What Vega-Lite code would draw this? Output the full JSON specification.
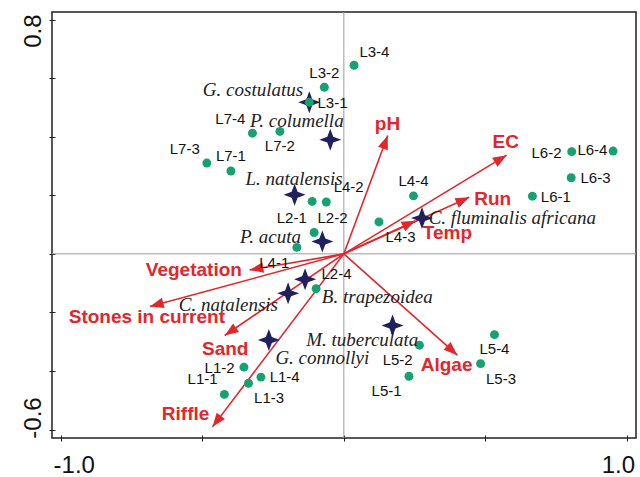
{
  "$schema": "https://vega.github.io/schema/vega-lite/v6.json",
  "width": 584,
  "height": 426,
  "autosize": "none",
  "padding": {"left": 52, "top": 12, "right": 4, "bottom": 39},
  "background": "white",
  "config": {
    "view": {"stroke": "#222", "strokeWidth": 1.5},
    "axis": {"grid": false, "domain": false, "labelFont": "Liberation Sans", "labelFontSize": 24, "labelColor": "#111", "tickColor": "#222", "tickWidth": 1, "tickSize": 6, "offset": -3, "title": null}
  },
  "datasets": {
    "sites": [
      {"name": "L3-4", "x": 0.036, "y": 0.644, "lx": 0.108, "ly": 0.691},
      {"name": "L3-2", "x": -0.069, "y": 0.569, "lx": -0.069, "ly": 0.618},
      {"name": "L3-1", "x": -0.122, "y": 0.518, "lx": -0.040, "ly": 0.516},
      {"name": "L7-4", "x": -0.323, "y": 0.412, "lx": -0.401, "ly": 0.461},
      {"name": "L7-2", "x": -0.226, "y": 0.418, "lx": -0.226, "ly": 0.367},
      {"name": "L7-3", "x": -0.484, "y": 0.310, "lx": -0.562, "ly": 0.358},
      {"name": "L7-1", "x": -0.399, "y": 0.283, "lx": -0.399, "ly": 0.333},
      {"name": "L2-1", "x": -0.112, "y": 0.179, "lx": -0.184, "ly": 0.124},
      {"name": "L4-2", "x": -0.062, "y": 0.177, "lx": 0.017, "ly": 0.227},
      {"name": "L2-2", "x": -0.105, "y": 0.073, "lx": -0.040, "ly": 0.124},
      {"name": "L4-1", "x": -0.166, "y": 0.022, "lx": -0.246, "ly": -0.030},
      {"name": "L2-4", "x": -0.098, "y": -0.119, "lx": -0.026, "ly": -0.070},
      {"name": "L4-4", "x": 0.246, "y": 0.198, "lx": 0.246, "ly": 0.248},
      {"name": "L4-3", "x": 0.124, "y": 0.109, "lx": 0.200, "ly": 0.059},
      {"name": "L6-2", "x": 0.805, "y": 0.349, "lx": 0.716, "ly": 0.345},
      {"name": "L6-4", "x": 0.951, "y": 0.351, "lx": 0.878, "ly": 0.353},
      {"name": "L6-3", "x": 0.803, "y": 0.260, "lx": 0.889, "ly": 0.259},
      {"name": "L6-1", "x": 0.666, "y": 0.197, "lx": 0.749, "ly": 0.195},
      {"name": "L5-4", "x": 0.532, "y": -0.276, "lx": 0.532, "ly": -0.326},
      {"name": "L5-2", "x": 0.267, "y": -0.312, "lx": 0.190, "ly": -0.363},
      {"name": "L5-3", "x": 0.483, "y": -0.375, "lx": 0.555, "ly": -0.426},
      {"name": "L5-1", "x": 0.230, "y": -0.418, "lx": 0.151, "ly": -0.469},
      {"name": "L1-2", "x": -0.353, "y": -0.387, "lx": -0.439, "ly": -0.389},
      {"name": "L1-4", "x": -0.293, "y": -0.421, "lx": -0.209, "ly": -0.421},
      {"name": "L1-3", "x": -0.337, "y": -0.442, "lx": -0.264, "ly": -0.492},
      {"name": "L1-1", "x": -0.422, "y": -0.480, "lx": -0.499, "ly": -0.429}
    ],
    "species": [
      {"name": "G. costulatus", "x": -0.122, "y": 0.518, "lx": -0.321, "ly": 0.561},
      {"name": "P. columella", "x": -0.048, "y": 0.390, "lx": -0.166, "ly": 0.453},
      {"name": "L. natalensis", "x": -0.174, "y": 0.202, "lx": -0.176, "ly": 0.256},
      {"name": "P. acuta", "x": -0.076, "y": 0.042, "lx": -0.259, "ly": 0.058},
      {"name": "C. fluminalis africana", "x": 0.276, "y": 0.122, "lx": 0.595, "ly": 0.122},
      {"name": "C. natalensis", "x": -0.197, "y": -0.135, "lx": -0.408, "ly": -0.176},
      {"name": "B. trapezoidea", "x": -0.137, "y": -0.087, "lx": 0.118, "ly": -0.147},
      {"name": "M. tuberculata", "x": 0.172, "y": -0.245, "lx": 0.065, "ly": -0.294},
      {"name": "G. connollyi", "x": -0.265, "y": -0.294, "lx": -0.076, "ly": -0.357}
    ],
    "env": [
      {"name": "pH", "x": 0.155, "y": 0.404, "lx": 0.154, "ly": 0.444},
      {"name": "EC", "x": 0.575, "y": 0.337, "lx": 0.572, "ly": 0.383},
      {"name": "Run", "x": 0.443, "y": 0.193, "lx": 0.526, "ly": 0.189},
      {"name": "Temp", "x": 0.253, "y": 0.113, "lx": 0.366, "ly": 0.070},
      {"name": "Vegetation", "x": -0.333, "y": -0.055, "lx": -0.530, "ly": -0.056},
      {"name": "Stones in current", "x": -0.685, "y": -0.180, "lx": -0.696, "ly": -0.216},
      {"name": "Sand", "x": -0.421, "y": -0.279, "lx": -0.419, "ly": -0.326},
      {"name": "Riffle", "x": -0.464, "y": -0.591, "lx": -0.559, "ly": -0.547},
      {"name": "Algae", "x": 0.401, "y": -0.346, "lx": 0.363, "ly": -0.378}
    ]
  },
  "layer": [
    {
      "data": {"values": [{}]},
      "mark": {"type": "rule", "color": "#9a9a9a", "strokeWidth": 1},
      "encoding": {
        "y": {"datum": 0, "type": "quantitative", "scale": {"domain": [-0.629, 0.826], "nice": false, "zero": false},
          "axis": {"values": [-0.6, -0.4, -0.2, 0, 0.2, 0.4, 0.6, 0.8], "labelAngle": -90, "labelAlign": "center", "labelBaseline": "alphabetic", "labelPadding": 9,
            "labelExpr": "datum.value > 0.7 ? '0.8' : (datum.value < -0.5 ? '-0.6' : '')",
            "labelOffset": {"condition": {"test": "datum.value > 0", "value": 11}, "value": -12}}}
      }
    },
    {
      "data": {"values": [{}]},
      "mark": {"type": "rule", "color": "#9a9a9a", "strokeWidth": 1},
      "encoding": {
        "x": {"datum": 0, "type": "quantitative", "scale": {"domain": [-1.031, 1.032], "nice": false, "zero": false},
          "axis": {"values": [-1, -0.5, 0, 0.5, 1], "labelPadding": 12, "labelAlign": "center",
            "labelExpr": "datum.value < -0.9 ? '-1.0' : (datum.value > 0.9 ? '1.0' : '')",
            "labelOffset": {"condition": {"test": "datum.value < 0", "value": 13}, "value": -9}}}
      }
    },
    {
      "data": {"name": "env"},
      "mark": {"type": "rule", "color": "#e0282c", "strokeWidth": 1.6},
      "encoding": {
        "x": {"field": "x", "type": "quantitative"},
        "y": {"field": "y", "type": "quantitative"},
        "x2": {"datum": 0},
        "y2": {"datum": 0}
      }
    },
    {
      "data": {"name": "env"},
      "transform": [{"calculate": "atan2(datum.x * 283.1, datum.y * 292.8) * 180 / PI", "as": "angle"}],
      "mark": {"type": "point", "shape": "M0,0 L0.38,1 L-0.38,1 Z", "filled": true, "opacity": 1, "color": "#e0282c", "size": 760, "strokeWidth": 0},
      "encoding": {
        "x": {"field": "x", "type": "quantitative"},
        "y": {"field": "y", "type": "quantitative"},
        "angle": {"field": "angle", "type": "quantitative", "scale": null}
      }
    },
    {
      "data": {"name": "species"},
      "mark": {"type": "point", "shape": "M0,-1 L0.27,-0.27 L1,0 L0.27,0.27 L0,1 L-0.27,0.27 L-1,0 L-0.27,-0.27 Z", "filled": true, "opacity": 1, "color": "#20205e", "size": 484, "strokeWidth": 0},
      "encoding": {
        "x": {"field": "x", "type": "quantitative"},
        "y": {"field": "y", "type": "quantitative"}
      }
    },
    {
      "data": {"name": "sites"},
      "mark": {"type": "circle", "color": "#17a070", "opacity": 1, "size": 80},
      "encoding": {
        "x": {"field": "x", "type": "quantitative"},
        "y": {"field": "y", "type": "quantitative"}
      }
    },
    {
      "data": {"name": "sites"},
      "mark": {"type": "text", "font": "Liberation Sans", "fontSize": 15, "color": "#111", "align": "center", "baseline": "middle"},
      "encoding": {
        "x": {"field": "lx", "type": "quantitative"},
        "y": {"field": "ly", "type": "quantitative"},
        "text": {"field": "name"}
      }
    },
    {
      "data": {"name": "species"},
      "mark": {"type": "text", "font": "Liberation Serif", "fontStyle": "italic", "fontSize": 19, "color": "#222", "align": "center", "baseline": "middle"},
      "encoding": {
        "x": {"field": "lx", "type": "quantitative"},
        "y": {"field": "ly", "type": "quantitative"},
        "text": {"field": "name"}
      }
    },
    {
      "data": {"name": "env"},
      "mark": {"type": "text", "font": "Liberation Sans", "fontWeight": "bold", "fontSize": 19, "color": "#e3262b", "align": "center", "baseline": "middle"},
      "encoding": {
        "x": {"field": "lx", "type": "quantitative"},
        "y": {"field": "ly", "type": "quantitative"},
        "text": {"field": "name"}
      }
    }
  ]
}
